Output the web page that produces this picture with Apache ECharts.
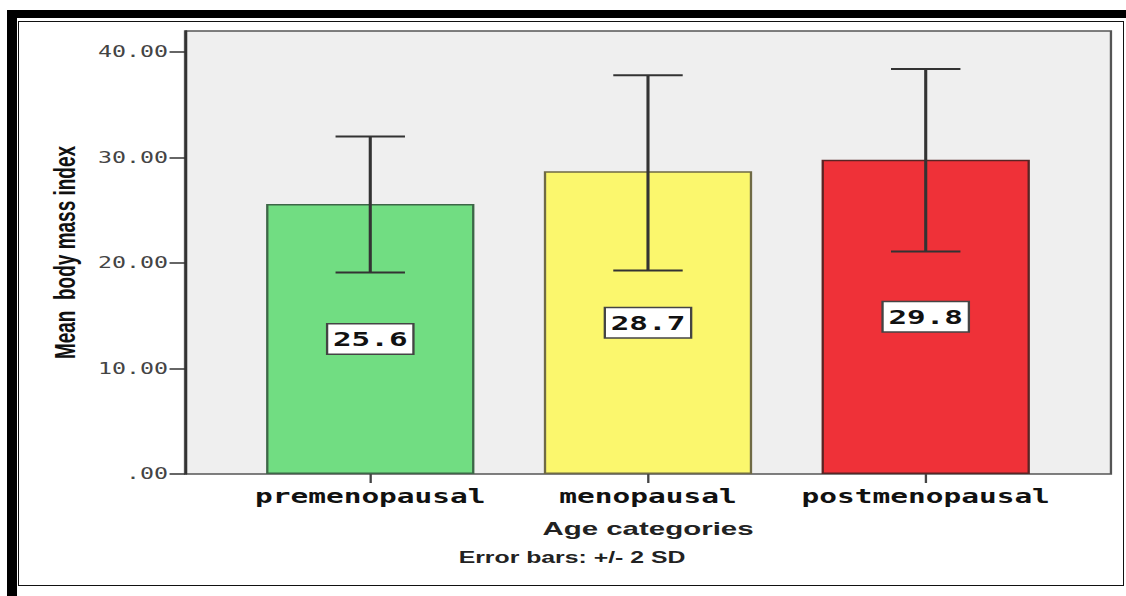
<!DOCTYPE html>
<html>
<head>
<meta charset="utf-8">
<script src="https://cdn.jsdelivr.net/npm/echarts@6/dist/echarts.min.js"></script>
<style>
    html, body { margin: 0; padding: 0; background: #fff; }
    #page { position: relative; width: 1126px; height: 596px; overflow: hidden; background: #fff; }
    /* frame round the picture */
    .thick { position: absolute; left: 7px; top: 10px; width: 1119px; height: 586px; background: #000; }
    .inner { position: absolute; left: 17px; top: 18px; width: 1109px; height: 578px; background: #fff; }
    .thin { position: absolute; left: 18px; top: 21px; width: 1106px; height: 565px; box-sizing: border-box; border: 1.5px solid #111; background: #fff; }
    /* the source picture is stretched sideways, so is the chart */
    #chart { position: absolute; left: 0; top: 0; width: 726px; height: 596px; transform: scaleX(1.55096); transform-origin: 0 0; }
</style>
</head>
<body>
<div id="page">
    <div class="thick"></div>
    <div class="inner"></div>
    <div class="thin"></div>
    <div id="chart"></div>
</div>
<script>
var categories = ['premenopausal', 'menopausal', 'postmenopausal'];
var means = [25.6, 28.7, 29.8];
var errLow = [19.1, 19.3, 21.1];   // mean - 2 SD
var errHigh = [32.0, 37.8, 38.4];  // mean + 2 SD
var yTicks = [0, 10, 20, 30, 40];
var yMax = 42;

var barColors = ['#71dd82', '#fbf76d', '#ef3138'];
var barBorders = ['#3d6647', '#6f6a45', '#5a2424'];

var myChart = echarts.init(document.getElementById('chart'), null, { renderer: 'svg' });

function paintChart() {
    var barData = means.map(function (v, i) {
        return {
            value: v,
            itemStyle: {
                color: barColors[i],
                borderColor: barBorders[i],
                borderWidth: 1.5
            }
        };
    });
    var errData = means.map(function (v, i) {
        return [i, errLow[i], errHigh[i]];
    });

    var option = {
        animation: false,
        grid: [{
            // gray plot frame with the value axis
            left: 119.3,
            right: 9.7,
            top: 31,
            bottom: 122,
            show: true,
            backgroundColor: '#efefef',
            borderColor: '#555',
            borderWidth: 1.5
        }, {
            // the three category bands
            left: 149.2,
            right: 39.6,
            top: 31,
            bottom: 122
        }],
        xAxis: [{
            gridIndex: 0,
            type: 'value',
            show: false
        }, {
            gridIndex: 1,
            type: 'category',
            data: categories,
            axisLine: { show: false },
            axisTick: {
                show: true,
                alignWithLabel: true,
                length: 9,
                lineStyle: { color: '#444', width: 1.5 }
            },
            axisLabel: {
                interval: 0,
                hideOverlap: false,
                margin: 13,
                fontFamily: 'DejaVu Sans Mono',
                fontWeight: 'bold',
                fontSize: 19,
                color: '#111'
            },
            name: 'Age categories',
            nameLocation: 'middle',
            nameGap: 45,
            nameTextStyle: {
                fontFamily: 'Liberation Sans',
                fontWeight: 'bold',
                fontSize: 19,
                color: '#222'
            }
        }],
        yAxis: [{
            gridIndex: 0,
            type: 'value',
            min: 0,
            max: yMax,
            axisLine: {
                show: true,
                lineStyle: { color: '#333', width: 1.5 }
            },
            axisTick: {
                show: true,
                length: 10,
                customValues: yTicks,
                lineStyle: { color: '#333', width: 1.5 }
            },
            axisLabel: {
                margin: 11,
                customValues: yTicks,
                fontFamily: 'DejaVu Sans Mono',
                fontSize: 15,
                color: '#444',
                formatter: function (value) {
                    if (value == 0) return '.00';
                    return value.toFixed(2);
                }
            },
            splitLine: { show: false },
            name: 'Mean  body mass index',
            nameLocation: 'middle',
            nameGap: 68,
            nameTextStyle: {
                fontFamily: 'Liberation Sans',
                fontWeight: 'bold',
                fontSize: 19,
                color: '#111'
            }
        }, {
            gridIndex: 1,
            type: 'value',
            min: 0,
            max: yMax,
            show: false
        }],
        graphic: [{
            type: 'text',
            x: 368.8,
            y: 549,
            style: {
                text: 'Error bars: +/- 2 SD',
                font: 'bold 16px "Liberation Sans"',
                fill: '#222',
                align: 'center',
                verticalAlign: 'top'
            }
        }],
        series: [{
            type: 'bar',
            xAxisIndex: 1,
            yAxisIndex: 1,
            barWidth: '75%',
            data: barData,
            label: {
                show: true,
                position: 'inside',
                formatter: function (p) { return p.value.toFixed(1); },
                fontFamily: 'DejaVu Sans Mono',
                fontWeight: 'bold',
                fontSize: 20,
                color: '#111',
                backgroundColor: '#fff',
                borderColor: '#444',
                borderWidth: 1.5,
                padding: [5, 3, 4, 3]
            }
        }, {
            type: 'custom',
            xAxisIndex: 1,
            yAxisIndex: 1,
            z: 5,
            data: errData,
            encode: { x: 0, y: [1, 2] },
            renderItem: function (params, api) {
                var lo = api.coord([api.value(0), api.value(1)]);
                var hi = api.coord([api.value(0), api.value(2)]);
                var half = api.size([1, 0])[0] * 0.125;
                var style = { stroke: '#333', lineWidth: 2 };
                return {
                    type: 'group',
                    children: [{
                        type: 'line',
                        shape: { x1: lo[0], y1: lo[1], x2: hi[0], y2: hi[1] },
                        style: style
                    }, {
                        type: 'line',
                        shape: { x1: hi[0] - half, y1: hi[1], x2: hi[0] + half, y2: hi[1] },
                        style: style
                    }, {
                        type: 'line',
                        shape: { x1: lo[0] - half, y1: lo[1], x2: lo[0] + half, y2: lo[1] },
                        style: style
                    }]
                };
            }
        }]
    };
    myChart.setOption(option);
}

paintChart();
</script>
</body>
</html>
